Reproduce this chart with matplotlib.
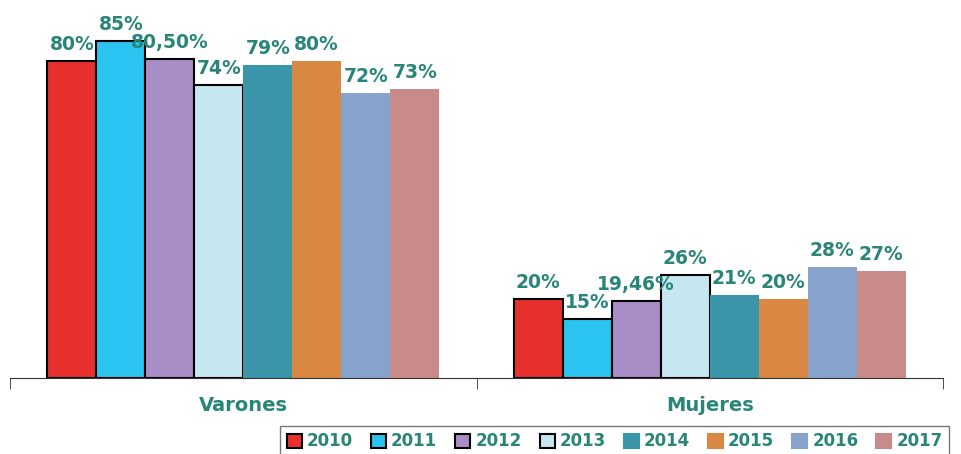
import numpy as np
import matplotlib.pyplot as plt
from matplotlib.patches import Patch

categories = ["Varones", "Mujeres"]
years = ["2010", "2011", "2012", "2013", "2014", "2015", "2016", "2017"]
varones = [80, 85, 80.5, 74, 79, 80, 72, 73]
mujeres = [20, 15, 19.46, 26, 21, 20, 28, 27]
labels_varones = ["80%", "85%", "80,50%", "74%", "79%", "80%", "72%", "73%"]
labels_mujeres = ["20%", "15%", "19,46%", "26%", "21%", "20%", "28%", "27%"]

colors = ["#E8302E", "#2BC3EF", "#A88DC6", "#C6E6F0", "#3A95A8", "#D98843", "#88A3CB", "#C98A8A"]
edges = ["black", "black", "black", "black", "none", "none", "none", "none"]
teal = "#2A8579"

fig = plt.figure(figsize=(9.61, 4.54), dpi=100)
ax = fig.add_axes([10 / 961, 76 / 454, 933 / 961, 378 / 454])

x = np.arange(len(categories))
w = 0.105
for i, yr in enumerate(years):
    vals = [varones[i], mujeres[i]]
    labs = [labels_varones[i], labels_mujeres[i]]
    pos = x + (i - 3.5) * w
    ax.bar(pos, vals, width=w, color=colors[i], edgecolor=edges[i], linewidth=1.5)
    for p, v, l in zip(pos, vals, labs):
        ax.annotate(l, (p, v), xytext=(0, 5), textcoords="offset points",
                    ha="center", va="bottom", color=teal, fontsize=13.5, fontweight="bold")

ax.set_xlim(-0.5, 1.5)
ax.set_ylim(0, 95.4)
for s in ["top", "left", "right"]:
    ax.spines[s].set_visible(False)
ax.spines["bottom"].set_color("#333333")
ax.set_yticks([])
ax.set_xticks(x)
ax.set_xticklabels(categories, color=teal, fontsize=14, fontweight="bold")
ax.tick_params(axis="x", which="major", length=0, pad=13)
ax.set_xticks([-0.5, 0.5, 1.5], minor=True)
ax.tick_params(axis="x", which="minor", length=8, color="#333333")

handles = [Patch(facecolor=c, edgecolor=e if e != "none" else c, linewidth=1.5) for c, e in zip(colors, edges)]
leg = fig.legend(handles, years, ncol=8, loc="lower left", bbox_to_anchor=(272 / 961, -0.025),
                 frameon=True, fancybox=False, handlelength=0.9, handleheight=0.9,
                 handletextpad=0.3, columnspacing=1.08, borderpad=0.4,
                 prop={"weight": "bold", "size": 12})
leg.get_frame().set_edgecolor("#555555")
for t in leg.get_texts():
    t.set_color(teal)

fig.savefig("out.png", dpi=100)
